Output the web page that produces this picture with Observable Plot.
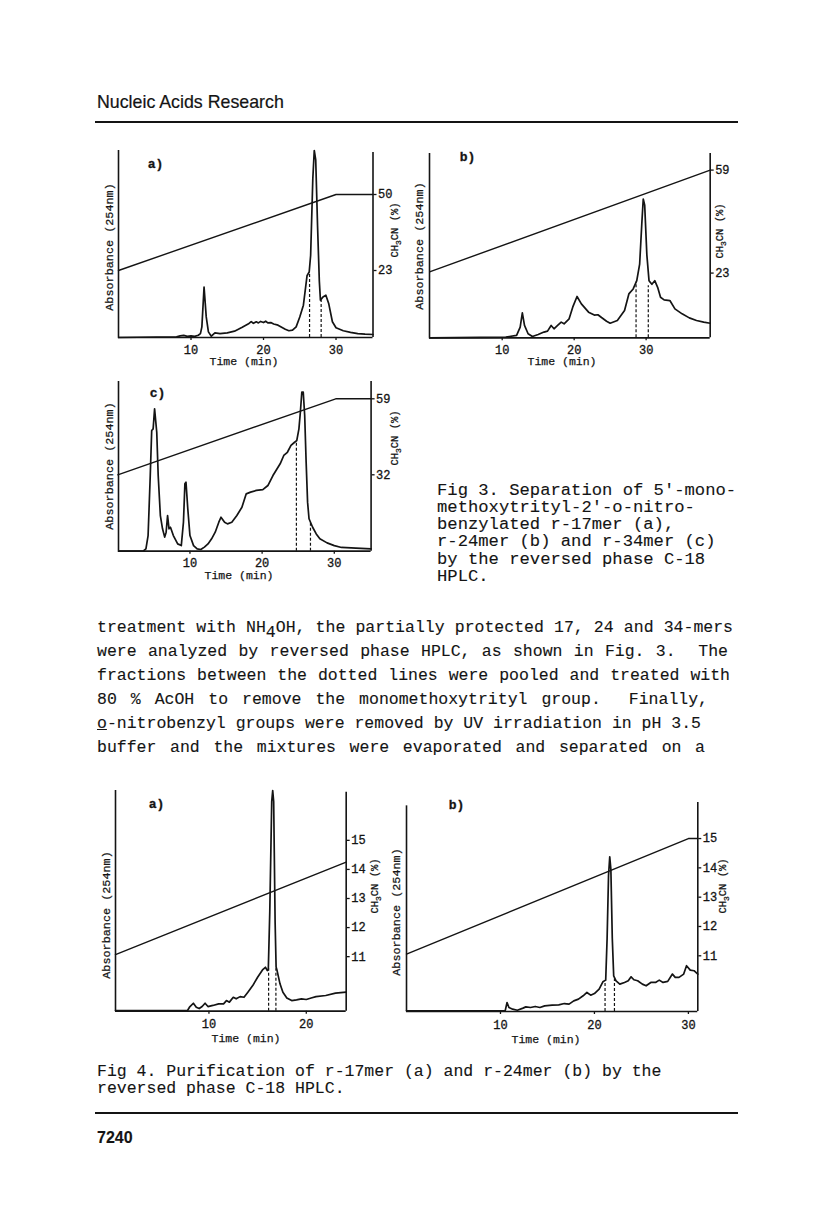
<!DOCTYPE html>
<html><head><meta charset="utf-8">
<script src="https://cdn.jsdelivr.net/npm/d3@7"></script>
<script src="https://cdn.jsdelivr.net/npm/@observablehq/plot@0.6"></script>
<style>
body{margin:0;background:#fff;}
#page{position:relative;width:816px;height:1228px;background:#fff;overflow:hidden;color:#141414;}
#page svg text{stroke:#141414;stroke-width:0.3px;}
.sub4{position:relative;top:5px;}
</style></head><body><div id="page"></div>
<script>
// ---------- DATA ----------
// Fig 3a  (r-17mer)
const f3aTime = [0, 8, 8.5, 9, 9.5, 10, 10.5, 11, 11.3, 11.5, 11.8, 12.1, 12.4, 12.8, 13.3, 14, 15, 16, 17, 18, 18.3, 18.6, 19, 19.3, 19.6, 20, 20.3, 20.6, 21, 21.4, 22, 23, 23.5, 24, 24.5, 25, 25.5, 26, 26.3, 26.5, 26.8, 27.0, 27.2, 27.45, 27.7, 27.85, 28.2, 28.6, 29, 29.5, 30, 31, 32, 33, 34, 35.1];
const f3aAbs  = [0, 0.4, 0.9, 1.1, 0.6, 0.9, 0.6, 1.2, 2.1, 5.7, 27, 11, 3, 0.7, 2.5, 2.1, 2.5, 3.4, 5.3, 7.5, 8.5, 7.6, 8.4, 7.8, 8.6, 8.0, 8.7, 7.8, 8.0, 7.2, 6.6, 4.4, 3.6, 3.9, 5.7, 11, 17.3, 33, 35, 44, 85, 100, 95, 60, 30, 20, 21.7, 22.6, 18, 8.4, 5.2, 3.6, 2.7, 2.1, 1.8, 1.6];
const f3aGradTime = [0, 30, 35.1];
const f3aGradPct  = [23, 50, 50];
const f3aCutTime = [26.35, 27.95];
const f3aCutAbs  = [34.2, 19.9];
const f3aXTicks = [10, 20, 30];
const f3aPctTicks = [23, 50];

// Fig 3b  (r-24mer)
const f3bTime = [-0.1, 10.5, 11, 12, 12.5, 12.8, 13.1, 13.6, 14.2, 15, 15.8, 16.3, 16.8, 17.2, 17.7, 18.2, 18.6, 19.3, 19.8, 20.4, 21, 22, 22.8, 23.3, 23.8, 24.5, 25, 26, 27, 27.6, 28.2, 28.7, 29.1, 29.4, 29.6, 29.8, 30.1, 30.4, 30.8, 31.2, 31.6, 32, 32.5, 33.3, 34, 35, 36, 37, 38, 38.9];
const f3bAbs  = [0, 0.4, 0.7, 1.3, 5.8, 13.5, 6.7, 2.2, 0.7, 1.8, 3.1, 3.6, 6.7, 4.9, 6.7, 8.5, 7.6, 10.3, 16.6, 22.4, 18.4, 13.9, 12.3, 12.5, 11, 9, 7.9, 9.4, 14.8, 23.8, 26.5, 31, 40, 62, 75.3, 72, 45, 31, 29, 31, 27.4, 22, 20.6, 20.2, 15.7, 13, 10.8, 9.4, 8.5, 7.9];
const f3bGradTime = [0, 38.9];
const f3bGradPct  = [23.5, 59];
const f3bCutTime = [28.6, 30.3];
const f3bCutAbs  = [30.1, 28.3];
const f3bXTicks = [10, 20, 30];
const f3bPctTicks = [23, 59];

// Fig 3c  (r-34mer)
const f3cTime = [0.1, 3.5, 3.9, 4.2, 4.5, 4.7, 4.9, 5.0, 5.1, 5.4, 5.6, 5.9, 6.2, 6.5, 6.7, 6.9, 7.1, 7.3, 7.7, 8.3, 8.8, 9.1, 9.3, 9.45, 9.7, 10.0, 10.5, 11, 11.5, 12, 12.5, 13, 13.5, 14, 14.3, 14.8, 15.2, 15.8, 16.5, 17.2, 17.8, 18.4, 19.2, 20.1, 20.8, 21.5, 22.5, 23, 23.5, 24, 24.5, 24.8, 25.1, 25.3, 25.5, 25.7, 25.9, 26.1, 26.3, 26.5, 27, 27.5, 28, 29, 30, 31, 33, 35.1];
const f3cAbs  = [0, 0, 1.4, 9.2, 44.6, 71.1, 72.1, 78, 83.9, 70.1, 44.6, 21, 13.2, 8.3, 11.2, 21, 13.2, 14.1, 9.2, 4.3, 3.3, 17.1, 39.7, 40.7, 25, 9.2, 3.3, 1.4, 1, 2.4, 4.3, 7.3, 11.2, 17.1, 20, 17.1, 16.1, 17.1, 21, 25.9, 33.8, 34.8, 35.8, 36.3, 38.7, 44.6, 51.5, 56.4, 58.3, 62.3, 64.2, 65.2, 72.1, 81.9, 93.7, 93.7, 80, 52.5, 28.9, 19.1, 14.1, 10.2, 7.3, 4.9, 3.3, 2.2, 1.8, 1.4];
const f3cGradTime = [0, 30.2, 35.1];
const f3cGradPct  = [32, 59, 59];
const f3cCutTime = [24.75, 26.7];
const f3cCutAbs  = [65.2, 17.1];
const f3cXTicks = [10, 20, 30];
const f3cPctTicks = [32, 59];

// Fig 4a  (r-17mer purification)
const f4aTime = [0.4, 7.8, 8.0, 8.4, 8.7, 9.0, 9.3, 9.6, 9.9, 10.4, 11, 11.5, 11.8, 12.1, 12.5, 12.8, 13.2, 13.6, 14, 14.5, 15, 15.5, 15.8, 16.0, 16.1, 16.25, 16.45, 16.55, 16.65, 16.8, 16.9, 17.0, 17.3, 17.6, 18, 18.5, 19, 19.5, 20, 20.5, 21, 22, 23, 24.1];
const f4aAbs  = [0.3, 0.3, 1.8, 3.6, 1.8, 1.2, 2.1, 3.6, 2.1, 2.6, 3.3, 3.3, 4.8, 4.1, 6.3, 5.6, 6.6, 6.3, 8.6, 11.6, 15.4, 18.7, 19.9, 18.4, 19, 45, 95, 100, 95, 40, 20, 18.4, 12.4, 8.6, 6, 4.8, 5.1, 5.6, 5.3, 6, 6.6, 7.1, 8.2, 8.6];
const f4aGradTime = [0.4, 24.1];
const f4aGradPct  = [11.07, 14.25];
const f4aCutTime = [16.13, 16.88];
const f4aCutAbs  = [19.2, 19.2];
const f4aXTicks = [10, 20];
const f4aPctTicks = [11, 12, 13, 14, 15];

// Fig 4b  (r-24mer purification)
const f4bTime = [0, 10.5, 10.7, 10.9, 11.3, 11.8, 12.4, 12.7, 13.2, 13.7, 14.2, 14.7, 15.5, 16.2, 16.8, 17.3, 17.8, 18.3, 18.8, 19.2, 19.6, 20, 20.5, 20.9, 21.2, 21.35, 21.5, 21.63, 21.75, 21.9, 22.05, 22.3, 22.7, 23.2, 23.6, 23.9, 24.2, 24.6, 25.1, 25.5, 26, 26.5, 26.9, 27.3, 27.8, 28.3, 28.6, 29.0, 29.5, 29.8, 30.2, 30.6, 31];
const f4bAbs  = [0.3, 0.3, 4.3, 1.9, 1.1, 0.6, 1.6, 2.2, 1.9, 2.4, 1.9, 2.7, 3.0, 3.2, 3.8, 3.5, 5.1, 5.9, 7.5, 9.1, 7.8, 8.6, 10.7, 14.2, 15, 35, 65, 74, 68, 35, 17, 14.7, 13.1, 13.9, 14.7, 16.6, 15.2, 14.7, 13.1, 12.3, 13.9, 13.9, 15, 13.9, 14.4, 17.9, 16.3, 16.3, 17.9, 21.9, 19.8, 19.5, 17.9];
const f4bGradTime = [0, 30, 31];
const f4bGradPct  = [11.06, 15, 15];
const f4bCutTime = [21.13, 22.13];
const f4bCutAbs  = [13.4, 15.5];
const f4bXTicks = [10, 20, 30];
const f4bPctTicks = [11, 12, 13, 14, 15];

// ---------- LAYOUT ----------
const MONO = '"Liberation Mono", "Courier New", monospace';
const SANS = '"Liberation Sans", Arial, sans-serif';
const page = document.getElementById("page");

function txt(html, x, y, o = {}) {
  const d = document.createElement("div");
  const size = o.size || 16.5;
  d.innerHTML = html;
  d.style.cssText = `position:absolute;white-space:pre;font-family:${o.family || MONO};font-size:${size}px;line-height:${size * 1.2}px;font-weight:${o.weight || "normal"};color:#141414;-webkit-text-stroke:${o.stroke ?? 0.12}px #141414;`;
  d.style.left = x + "px";
  d.style.top = (y - size * 0.6) + "px";
  if (o.width) {
    d.style.width = o.width + "px";
    d.style.whiteSpace = "nowrap";
    d.style.textAlign = "justify";
    d.style.textAlignLast = "justify";
  }
  if (o.center) d.style.transform = "translateX(-50%)";
  if (o.rotate) { d.style.top = y + "px"; d.style.transform = "translate(-50%,-50%) rotate(-90deg)"; }
  page.appendChild(d);
  return d;
}
function rule(x, y, w, h) {
  const d = document.createElement("div");
  d.style.cssText = `position:absolute;left:${x}px;top:${y}px;width:${w}px;height:${h}px;background:#141414;`;
  page.appendChild(d);
}

function drawPanel(c) {
  const ml = 34, mr = 44, mt = 14, mb = 40;
  const w = c.R - c.L + ml + mr, h = c.B - c.T + mt + mb;
  const wrap = document.createElement("div");
  wrap.style.cssText = `position:absolute;left:${c.L - ml}px;top:${c.T - mt}px;width:${w}px;height:${h}px;`;
  page.appendChild(wrap);
  const style = {fontFamily: MONO, fontSize: "12px", color: "#141414", background: "transparent", overflow: "visible", position: "absolute", left: "0px", top: "0px", maxWidth: "none"};
  const trace = c.time.map((t, i) => ({t, a: c.abs[i]}));
  const cuts = c.cutT.map((t, i) => ({t, a: c.cutA[i]}));
  const grad = c.gradT.map((t, i) => ({t, p: c.gradP[i]}));
  const [x0, x1] = c.x;
  const p1 = Plot.plot({
    width: w, height: h, marginLeft: ml, marginRight: mr, marginTop: mt, marginBottom: mb, style,
    x: {domain: c.x, label: null},
    y: {domain: [0, 100], axis: null},
    marks: [
      Plot.axisX({ticks: c.xTicks, tickSize: 3, tickPadding: c.pad, tickFormat: d => String(d), label: null, strokeWidth: 1.3, fontSize: 12}),
      Plot.ruleY([{y: 0, a: x0, b: x1}], {y: "y", x1: "a", x2: "b", strokeWidth: 1.7}),
      Plot.ruleX([{x: x0, a: 0, b: c.lTop}], {x: "x", y1: "a", y2: "b", strokeWidth: 1.6}),
      Plot.ruleX(cuts, {x: "t", y1: 0, y2: "a", strokeDasharray: "3,2", strokeWidth: 1.2}),
      Plot.line(trace, {x: "t", y: "a", strokeWidth: 1.7, strokeLinejoin: "round"})
    ]
  });
  const p2 = Plot.plot({
    width: w, height: h, marginLeft: ml, marginRight: mr, marginTop: mt, marginBottom: mb, style,
    x: {domain: c.x, axis: null},
    y: {domain: c.pct, label: null},
    marks: [
      Plot.axisY({anchor: "right", ticks: c.pctTicks, tickSize: 3, tickPadding: 2, tickFormat: d => String(d), label: null, strokeWidth: 1.3, fontSize: 12}),
      Plot.ruleX([{x: x1, a: c.pct[0], b: c.rTop}], {x: "x", y1: "a", y2: "b", strokeWidth: 1.6}),
      Plot.line(grad, {x: "t", y: "p", strokeWidth: 1.4})
    ]
  });
  wrap.appendChild(p1);
  wrap.appendChild(p2);
  // labels
  txt(c.letter, c.letterXY[0], c.letterXY[1], {size: 13, weight: "bold", center: true, stroke: 0.3});
  txt("Absorbance (254nm)", c.absXY[0], c.absXY[1], {size: 11.8, rotate: true, stroke: 0.25});
  txt('CH<sub style="font-size:8px;vertical-align:-3px">3</sub>CN (%)', c.chXY[0], c.chXY[1], {size: 10.5, rotate: true, stroke: 0.25});
  txt("Time (min)", c.timeXY[0], c.timeXY[1], {size: 11.5, center: true, stroke: 0.25});
}

const panels = [
  {L: 117.5, R: 372, B: 337, T: 150, x: [0, 35.1], pct: [-0.80, 65.63], rTop: 64.9, lTop: 100, pad: 4.5,
   time: f3aTime, abs: f3aAbs, gradT: f3aGradTime, gradP: f3aGradPct, cutT: f3aCutTime, cutA: f3aCutAbs, xTicks: f3aXTicks, pctTicks: f3aPctTicks,
   letter: "a)", letterXY: [155.5, 165], absXY: [110, 247], chXY: [397, 230], timeXY: [244, 362]},
  {L: 429.3, R: 710, B: 337, T: 152.7, x: [-0.1, 38.9], pct: [0.385, 64.8], rTop: 64.8, lTop: 100, pad: 4.2,
   time: f3bTime, abs: f3bAbs, gradT: f3bGradTime, gradP: f3bGradPct, cutT: f3bCutTime, cutA: f3bCutAbs, xTicks: f3bXTicks, pctTicks: f3bPctTicks,
   letter: "b)", letterXY: [467.5, 158], absXY: [420, 246], chXY: [722, 231], timeXY: [562, 362]},
  {L: 117.7, R: 370.3, B: 550.7, T: 381, x: [0.1, 35.1], pct: [4.86, 65.15], rTop: 65.15, lTop: 100, pad: 4.2,
   time: f3cTime, abs: f3cAbs, gradT: f3cGradTime, gradP: f3cGradPct, cutT: f3cCutTime, cutA: f3cCutAbs, xTicks: f3cXTicks, pctTicks: f3cPctTicks,
   letter: "c)", letterXY: [157.5, 394], absXY: [110, 465.5], chXY: [397, 438], timeXY: [239, 575.5]},
  {L: 115, R: 345.7, B: 1010.7, T: 790, x: [0.4, 24.1], pct: [9.125, 16.714], rTop: 16.656, lTop: 100, pad: 5.5,
   time: f4aTime, abs: f4aAbs, gradT: f4aGradTime, gradP: f4aGradPct, cutT: f4aCutTime, cutA: f4aCutAbs, xTicks: f4aXTicks, pctTicks: f4aPctTicks,
   letter: "a)", letterXY: [156.5, 805], absXY: [106.7, 915], chXY: [377, 886], timeXY: [246, 1038.5]},
  {L: 406, R: 697.3, B: 1010.7, T: 801.7, x: [0, 31], pct: [9.10, 16.23], rTop: 16.23, lTop: 98.4, pad: 5.5,
   time: f4bTime, abs: f4bAbs, gradT: f4bGradTime, gradP: f4bGradPct, cutT: f4bCutTime, cutA: f4bCutAbs, xTicks: f4bXTicks, pctTicks: f4bPctTicks,
   letter: "b)", letterXY: [456.5, 806], absXY: [396.7, 912], chXY: [725, 886], timeXY: [546, 1040]}
];
panels.forEach(drawPanel);

// ---------- PAGE TEXT ----------
txt("Nucleic Acids Research", 97, 103, {family: SANS, size: 17.8, stroke: 0.2});
rule(95, 121, 643, 2);

const cap3 = [
  "Fig 3. Separation of 5'-mono-",
  "methoxytrityl-2'-o-nitro-",
  "benzylated r-17mer (a),",
  "r-24mer (b) and r-34mer (c)",
  "by the reversed phase C-18",
  "HPLC."
];
const cap3Y = [491, 508.3, 525.5, 542.8, 560, 577.3];
cap3.forEach((s, i) => txt(s, 437, cap3Y[i], {size: 17.2}));

const body = [
  'treatment with NH<span class="sub4">4</span>OH, the partially protected 17, 24 and 34-mers',
  "were analyzed by reversed phase HPLC, as shown in Fig. 3.&nbsp; The",
  "fractions between the dotted lines were pooled and treated with",
  "80 % AcOH to remove the monomethoxytrityl group.&nbsp; Finally,",
  "<u>o</u>-nitrobenzyl groups were removed by UV irradiation in pH 3.5",
  "buffer and the mixtures were evaporated and separated on a"
];
const bodyEnd = [733, 728, 730, 708, 701, 705];
const bodyY = [628, 652, 676, 700, 724, 748];
body.forEach((s, i) => txt(s, 97, bodyY[i], {size: 16.5, width: bodyEnd[i] - 97}));

txt("Fig 4. Purification of r-17mer (a) and r-24mer (b) by the", 97, 1072, {size: 16.5});
txt("reversed phase C-18 HPLC.", 97, 1089.3, {size: 16.5});
rule(95, 1112, 643, 1.6);
txt("7240", 97, 1138, {family: SANS, size: 16, weight: "600", stroke: 0.1});
</script></body></html>
